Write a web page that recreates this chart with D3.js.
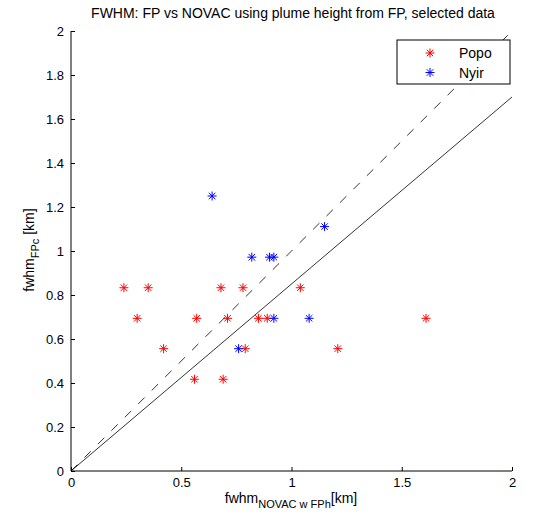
<!DOCTYPE html>
<html>
<head>
<meta charset="utf-8">
<script src="https://cdn.jsdelivr.net/npm/d3@7"></script>
<style>
  body { margin: 0; background: #fff; }
  svg { font-family: "Liberation Sans", Arial, sans-serif; }
</style>
</head>
<body>
<div class="svg-container"></div>
<script>
// data
const popoX = [0.24, 0.35, 0.30, 0.57, 0.71, 0.85, 0.89, 0.68, 0.78, 1.04, 0.42, 0.79, 0.56, 0.69, 1.61, 1.21];
const popoY = [0.833, 0.833, 0.694, 0.694, 0.694, 0.694, 0.694, 0.833, 0.833, 0.833, 0.556, 0.556, 0.417, 0.417, 0.694, 0.556];
const nyirX = [0.64, 0.82, 0.90, 0.92, 0.92, 1.08, 0.76, 1.15];
const nyirY = [1.25, 0.972, 0.972, 0.972, 0.694, 0.694, 0.556, 1.111];
const xTicks = [0, 0.5, 1, 1.5, 2];
const yTicks = [0, 0.2, 0.4, 0.6, 0.8, 1, 1.2, 1.4, 1.6, 1.8, 2];
const fitSlope = 0.85;
const seriesNames = ['Popo', 'Nyir'];
const seriesColors = ['#ff0000', '#0000ff'];

const width = 534, height = 519;
const margin = { top: 31, right: 22, bottom: 48, left: 71 };

const svg = d3.select('.svg-container')
    .append('svg')
    .attr('width', width)
    .attr('height', height);

const xScale = d3.scaleLinear().domain([0, 2]).range([margin.left, width - margin.right]);
const yScale = d3.scaleLinear().domain([0, 2]).range([height - margin.bottom, margin.top]);

// axes, ticks pointing inward
const xAxis = d3.axisBottom(xScale).tickValues(xTicks).tickSize(-4).tickPadding(7).tickFormat(d3.format('~g'));
const yAxis = d3.axisLeft(yScale).tickValues(yTicks).tickSize(-4).tickPadding(7).tickFormat(d3.format('~g'));

svg.append('g')
    .attr('class', 'x-axis')
    .attr('transform', `translate(0, ${height - margin.bottom})`)
    .call(xAxis)
    .call(g => g.select('.domain').attr('d', `M${xScale(0)},0H${xScale(2)}`));

svg.append('g')
    .attr('class', 'y-axis')
    .attr('transform', `translate(${margin.left}, 0)`)
    .call(yAxis)
    .call(g => g.select('.domain').attr('d', `M0,${yScale(0)}V${yScale(2)}`));

svg.selectAll('.tick text').attr('font-size', 13).attr('fill', '#000').attr('font-family', '"Liberation Sans", Arial, sans-serif');
svg.selectAll('.tick line, .domain').attr('stroke', '#000').attr('stroke-width', 1);

// reference lines
const line = d3.line().x(d => xScale(d[0])).y(d => yScale(d[1]));

svg.append('path')
    .datum([[0, 0], [2, 2]])
    .attr('d', line)
    .attr('fill', 'none')
    .attr('stroke', '#000')
    .attr('stroke-width', 0.8)
    .attr('stroke-dasharray', '9,10');

svg.append('path')
    .datum([[0, 0], [2, 2 * fitSlope]])
    .attr('d', line)
    .attr('fill', 'none')
    .attr('stroke', '#000')
    .attr('stroke-width', 0.8);

// asterisk marker
const r = 4.5, rd = r * 0.72;
const star = `M${-r},0H${r}M0,${-r}V${r}M${-rd},${-rd}L${rd},${rd}M${-rd},${rd}L${rd},${-rd}`;

const popo = popoX.map((x, i) => ({ x: x, y: popoY[i] }));
const nyir = nyirX.map((x, i) => ({ x: x, y: nyirY[i] }));

[popo, nyir].forEach((pts, k) => {
    svg.selectAll('.pt' + k)
        .data(pts)
        .join('path')
        .attr('class', 'pt' + k)
        .attr('transform', d => `translate(${xScale(d.x)},${yScale(d.y)})`)
        .attr('d', star)
        .attr('fill', 'none')
        .attr('stroke', seriesColors[k])
        .attr('stroke-width', 1);
});

// legend
const legend = svg.append('g').attr('transform', 'translate(397, 40)');
legend.append('rect')
    .attr('width', 113).attr('height', 44)
    .attr('fill', '#fff').attr('stroke', '#000').attr('stroke-width', 1);
seriesNames.forEach((name, i) => {
    const ly = 13 + i * 19.5;
    legend.append('path')
        .attr('transform', `translate(33, ${ly})`)
        .attr('d', star)
        .attr('fill', 'none')
        .attr('stroke', seriesColors[i]);
    legend.append('text')
        .attr('x', 62).attr('y', ly + 5)
        .attr('font-size', 14)
        .text(name);
});

// title
svg.append('text')
    .attr('x', 293).attr('y', 18)
    .attr('text-anchor', 'middle')
    .attr('font-size', 14)
    .text('FWHM: FP vs NOVAC using plume height from FP, selected data');

// x label
const xl = svg.append('text')
    .attr('x', 291).attr('y', 503)
    .attr('text-anchor', 'middle')
    .attr('font-size', 14);
xl.append('tspan').text('fwhm');
xl.append('tspan').attr('font-size', 11).attr('dy', 5).text('NOVAC w FPh');
xl.append('tspan').attr('dy', -5).text('[km]');

// y label
const yl = svg.append('text')
    .attr('transform', 'translate(34, 250) rotate(-90)')
    .attr('text-anchor', 'middle')
    .attr('font-size', 14);
yl.append('tspan').text('fwhm');
yl.append('tspan').attr('font-size', 11).attr('dy', 5).text('FPc');
yl.append('tspan').attr('dy', -5).text(' [km]');
</script>
</body>
</html>
